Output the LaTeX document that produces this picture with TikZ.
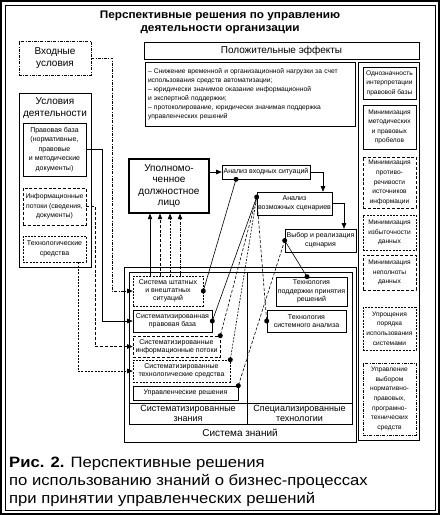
\documentclass[tikz,border=0pt]{standalone}
\usepackage{fontspec}
\setmainfont{Liberation Sans}
\newfontfamily\capfont{Liberation Sans}[FakeStretch=1.11]
\newfontfamily\titfont{Liberation Sans}[FakeStretch=1.07]
\usetikzlibrary{arrows.meta}
\newcommand{\myfs}[2]{\fontsize{#1}{#2}\selectfont}
\begin{document}
\begin{tikzpicture}[x=1pt,y=-1pt,
  box/.style={draw, line width=0.6pt, align=center, inner sep=1pt, font=\myfs{7}{9.6}},
  rbox/.style={box, font=\myfs{6.6}{9.6}, minimum width=53},
  sbox/.style={box, font=\myfs{7}{8.2}},
  dsh/.style={dash pattern=on 3pt off 1.8pt},
  fdsh/.style={dash pattern=on 2pt off 1.3pt},
  ddot/.style={dash pattern=on 3pt off 1.3pt on 0.8pt off 1.3pt},
  big/.style={font=\myfs{10}{11.5}, align=center, inner sep=0pt},
  arr/.style={-{Triangle[length=5.5pt,width=4.5pt]}, line width=0.6pt},
  lnk/.style={line width=0.6pt},
  jdot/.style={circle, fill, inner sep=0pt, minimum size=5pt},
  captxt/.style={anchor=base west, font=\capfont\myfs{15}{18}, inner sep=0pt}
]
\useasboundingbox (0,0) rectangle (440,515);
% outer frames
\draw[line width=1.2pt] (1,1) rectangle (439,514);
\draw[line width=0.8pt] (5,5) rectangle (435,510);

\node[font=\titfont\bfseries\myfs{11}{13}, align=center, inner sep=0pt] (title) at (220,22.5) {Перспективные решения по управлению\\деятельности организации};

% effects
\node[draw, line width=0.6pt, minimum width=275, minimum height=17, inner sep=0pt, font=\myfs{10}{11}] (pos) at (281.5,50.5) {Положительные эффекты};
\node[draw, line width=0.6pt, minimum width=210, minimum height=64, text width=204, align=left, inner sep=3pt, font=\myfs{6.7}{9}] (eff) at (250,94) {– Снижение временной и организационной нагрузки за счет\\использования средств автоматизации;\\– юридически значимое оказание информационной\\и экспертной поддержки;\\– протоколирование, юридически значимая поддержка\\управленческих решений};

% right column
\node[draw, line width=0.6pt, minimum width=61, minimum height=378, inner sep=0pt] (rcol) at (388.5,251) {};
\node[rbox, minimum height=32] (r1) at (389.5,83) {Однозначность\\интерпретации\\правовой базы};
\node[rbox, minimum height=44] (r2) at (389.5,127) {Минимизация\\методических\\и правовых\\пробелов};
\node[rbox, dsh, minimum height=51] (r3) at (389.5,182.5) {Минимизация\\противо-\\речивости\\источников\\информации};
\node[rbox, fdsh, minimum height=35] (r4) at (389.5,232.5) {Минимизация\\избыточности\\данных};
\node[rbox, dsh, minimum height=35] (r5) at (389.5,272.5) {Минимизация\\неполноты\\данных};
\node[rbox, fdsh, minimum height=43] (r6) at (389.5,328.5) {Упрощения\\порядка\\использования\\системами};
\node[rbox, ddot, minimum height=72] (r7) at (389.5,399) {Управление\\выбором\\нормативно-\\правовых,\\програмно-\\технических\\средств};

% left side
\node[box, ddot, big, minimum width=72, minimum height=34] (vhod) at (55,58) {Входные\\условия};
\node[draw, line width=0.6pt, minimum width=72, minimum height=174, inner sep=0pt] (usl) at (55,180) {};
\node[big] (usllab) at (55,108) {Условия\\деятельности};
\node[box, minimum width=63, minimum height=53] (pravo) at (54.5,149.5) {Правовая база\\(нормативные,\\правовые\\и методические\\документы)};
\node[box, dsh, minimum width=63, minimum height=37, font=\myfs{6.8}{9.6}] (info) at (54.5,206.5) {Информационные\\потоки (сведения,\\документы)};
\node[box, fdsh, minimum width=63, minimum height=26] (tech) at (54.5,249) {Технологические\\средства};

% central analysis
\node[box, line width=1.4pt, big, minimum width=80, minimum height=54] (upol) at (169,186) {Уполномо-\\ченное\\должностное\\лицо};
\node[box, minimum width=88, minimum height=14] (avh) at (266,172) {Анализ входных ситуаций};
\node[sbox, minimum width=75, minimum height=23, font=\myfs{7}{9}] (avb) at (294.5,203.5) {Анализ\\возможных сценариев};
\node[sbox, minimum width=71, minimum height=23, font=\myfs{7}{9}] (vyb) at (320.5,240.5) {Выбор и реализация\\сценария};

% knowledge system frames
\node[draw, line width=1pt, minimum width=232, minimum height=175, inner sep=0pt] (sz) at (240,354.5) {};
\node[draw, line width=0.6pt, minimum width=223, minimum height=152, inner sep=0pt] (szin) at (240.5,348) {};
\draw[line width=0.6pt] (247,272) -- (247,424);
\draw[line width=0.6pt] (129,403) -- (352,403);
\node[font=\myfs{9}{9.5}, align=center, inner sep=0pt] (szl) at (188,413.5) {Систематизированные\\знания};
\node[font=\myfs{9}{9.5}, align=center, inner sep=0pt] (spl) at (299.5,413.5) {Специализированные\\технологии};
\node[font=\myfs{10}{11}, inner sep=0pt] (szt) at (240,433) {Система знаний};

\node[sbox, fdsh, minimum width=70, minimum height=30] (sysshtat) at (168,291) {Система штатных\\и внештатных\\ситуаций};
\node[sbox, minimum width=79, minimum height=22] (sysprav) at (172.5,321) {Систематизированная\\правовая база};
\node[sbox, dsh, minimum width=87, minimum height=21] (sysinfo) at (176.5,346.5) {Систематизированные\\информационные потоки};
\node[sbox, fdsh, minimum width=97, minimum height=22] (systech) at (181.5,371) {Систематизированные\\технологические средства};
\node[sbox, minimum width=105, minimum height=14] (upr) at (185.5,393) {Управленческие решения};
\node[sbox, minimum width=71, minimum height=29] (techpod) at (311.5,291.5) {Технология\\поддержки принятия\\решений};
\node[sbox, minimum width=79, minimum height=22] (techsys) at (306.5,321) {Технология\\системного анализа};

% inputs
\draw[arr] (pravo.east) -- ++(16,0) |- (sysprav.west);
\draw[arr,dsh] (info.east) -- ++(9,0) |- (sysinfo.west);
\draw[arr,fdsh] ([xshift=23.5pt]tech.south) |- (systech.west);
\draw[arr,ddot] (vhod.east) -- ++(21,0) |- (sysshtat.west);

\foreach \dx/\st in {-18/solid, -8/dsh, 2/fdsh, 12/ddot}
  \draw[arr,\st] ([xshift=\dx pt]sysshtat.north) -- ([xshift=\dx pt]sysshtat.north |- upol.south);

\draw[arr] (upol.east |- avh.west) -- (avh.west);
\draw[arr] (avh.east) -| ([xshift=28.5pt]avb.north);
\draw[arr] (avb.east) -| ([xshift=23.5pt]vyb.north);

% knowledge links
\coordinate (dA) at ([xshift=-30pt]avh.south);
\coordinate (dB) at ([yshift=6.5pt]avb.west);
\coordinate (dC) at (vyb.west);
\coordinate (dT1) at ([xshift=-4.5pt]techpod.north);
\draw[lnk] (dA) -- (sysshtat.east);
\draw[lnk] (dB) -- (sysprav.east);
\draw[lnk,dsh] (dB) -- (sysinfo.north east);
\draw[lnk,fdsh] (dB) -- (systech.north east);
\draw[lnk,dsh] (dB) -- (techsys.west);
\draw[lnk,dsh] (dC) -- (upr.north east);
\draw[lnk] (dC) -- (dT1);
\foreach \p in {dA,dB,dC,dT1,sysshtat.east,sysprav.east,sysinfo.north east,systech.north east,upr.north east,techsys.west}
  \node[jdot] at (\p) {};

% caption
\node[captxt] (cap1) at (9,467) {\textbf{Рис. 2.} Перспективные решения};
\node[captxt] (cap2) at (9,485) {по использованию знаний о бизнес-процессах};
\node[captxt] (cap3) at (9,503) {при принятии управленческих решений};
\end{tikzpicture}
\end{document}
